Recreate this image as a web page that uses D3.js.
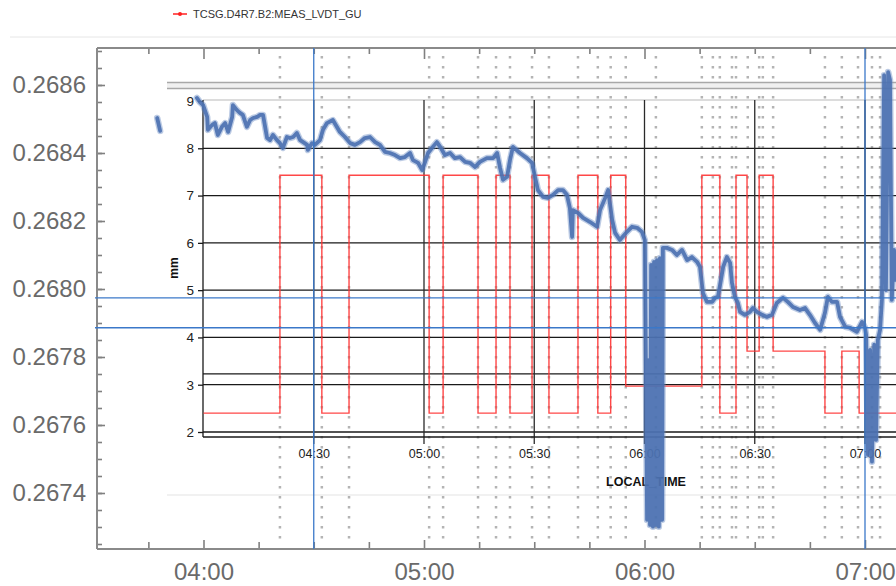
<!DOCTYPE html>
<html>
<head>
<meta charset="utf-8">
<script src="https://cdn.jsdelivr.net/npm/d3@7"></script>
<style>
  body { margin: 0; background: #fff; }
  svg { display: block; font-family: "Liberation Sans", Arial, sans-serif; }
</style>
</head>
<body>
<svg id="chart" width="896" height="586"></svg>
<script>
// all times are minutes after midnight
const legendLabel = 'TCSG.D4R7.B2:MEAS_LVDT_GU';
const outerTicks = [0.2674, 0.2676, 0.2678, 0.2680, 0.2682, 0.2684, 0.2686];
const innerTicks = [2, 3, 4, 5, 6, 7, 8, 9];
const innerGrid = [2, 3, 3.23, 4, 5, 6, 7, 8];
const innerHours = [270, 300, 330, 360, 390, 420];
const cursorTimes = [270, 420];
const cursorValues = [0.267974, 0.267886];

const eventTimes = [260.8, 272.2, 279.6, 301.4, 305.2, 314.7, 319.6, 323.4, 329.4, 334.0,
    341.9, 347.3, 350.8, 354.9, 363.1, 375.6, 378.6, 380.5, 383.8, 384.9, 388.1, 391.2,
    392.2, 395.0, 409.1, 413.7, 418.1, 421.9, 424.1];

const stepTimes = [240, 260.8, 272.2, 279.6, 301.4, 305.2, 314.7, 319.6, 323.4, 329.4, 334.0,
    341.9, 347.3, 350.8, 354.9, 375.6, 380.5, 384.9, 387.9, 391.2, 395.0, 409.1, 413.7, 418.4, 430];
const stepValues = [2.4, 7.43, 2.4, 7.43, 2.4, 7.43, 2.4, 7.43, 2.4, 7.43, 2.4,
    7.43, 2.4, 7.43, 2.97, 7.43, 2.4, 7.43, 3.71, 7.43, 3.71, 2.4, 3.71, 2.4, 2.4];

const blueSegA = [[227.4, 0.268503], [228.2, 0.268465]];
const blueSegB = [
    [238.2, 0.268562], [239.0, 0.268550], [239.9, 0.268541], [241.0, 0.268506], [241.2, 0.268468],
    [242.3, 0.268482], [243.1, 0.268488], [243.9, 0.268453], [245.0, 0.268477], [245.9, 0.268488],
    [246.7, 0.268462], [247.8, 0.268506], [248.0, 0.268541], [249.1, 0.268526], [249.9, 0.268518],
    [250.7, 0.268512], [251.8, 0.268477], [252.7, 0.268497], [253.5, 0.268503], [254.6, 0.268506],
    [255.4, 0.268512], [256.2, 0.268512], [257.3, 0.268444], [258.1, 0.268438], [258.9, 0.268453],
    [260.0, 0.268438], [260.8, 0.268429], [261.6, 0.268415], [262.7, 0.268447], [263.5, 0.268444],
    [264.4, 0.268447], [265.4, 0.268459], [266.3, 0.268438], [267.1, 0.268432], [268.2, 0.268424],
    [268.4, 0.268409], [269.5, 0.268429], [270.3, 0.268424], [271.7, 0.268438], [272.5, 0.268468],
    [273.6, 0.268488], [275.2, 0.268497], [277.1, 0.268462], [278.5, 0.268447], [279.9, 0.268429],
    [281.2, 0.268424], [282.6, 0.268432], [283.9, 0.268444], [285.3, 0.268447], [286.7, 0.268432],
    [288.0, 0.268424], [289.4, 0.268403], [290.7, 0.268400], [292.1, 0.268394], [293.5, 0.268385],
    [294.8, 0.268388], [296.2, 0.268400], [297.0, 0.268379], [298.4, 0.268371], [299.5, 0.268350],
    [300.3, 0.268374], [301.1, 0.268400], [302.4, 0.268418], [303.5, 0.268432], [304.4, 0.268418],
    [305.7, 0.268394], [307.1, 0.268400], [308.4, 0.268385], [309.8, 0.268388], [311.2, 0.268374],
    [312.5, 0.268371], [313.9, 0.268359], [315.2, 0.268374], [317.1, 0.268385], [318.8, 0.268385],
    [319.9, 0.268400], [320.7, 0.268356], [321.5, 0.268321], [322.6, 0.268330], [323.4, 0.268379],
    [324.2, 0.268418], [326.1, 0.268400], [328.0, 0.268385], [329.4, 0.268371], [330.2, 0.268330],
    [331.0, 0.268291], [332.4, 0.268271], [333.7, 0.268268], [335.1, 0.268277], [336.5, 0.268291],
    [337.8, 0.268291], [338.9, 0.268277], [339.7, 0.268238], [340.3, 0.268153], [340.5, 0.268232],
    [341.9, 0.268224], [343.3, 0.268209], [345.2, 0.268197], [347.1, 0.268183], [347.9, 0.268232],
    [349.3, 0.268268], [350.1, 0.268291], [351.2, 0.268203], [352.0, 0.268165], [353.3, 0.268144],
    [355.2, 0.268168], [356.6, 0.268183], [358.0, 0.268180], [359.3, 0.268168], [360.1, 0.268144],
    [360.7, 0.267321], [361.0, 0.267791], [361.5, 0.267306], [361.8, 0.268071], [362.3, 0.267301],
    [362.6, 0.268080], [363.1, 0.267306], [363.4, 0.268085], [363.9, 0.267301], [364.2, 0.268091],
    [364.8, 0.267321], [365.0, 0.268121], [366.1, 0.268121], [367.5, 0.268115], [368.8, 0.268100],
    [370.2, 0.268115], [371.6, 0.268085], [372.9, 0.268094], [374.3, 0.268080], [375.1, 0.268065],
    [375.9, 0.267988], [377.0, 0.267962], [378.4, 0.267962], [379.2, 0.267974], [380.0, 0.267977],
    [381.4, 0.268065], [382.4, 0.268094], [383.3, 0.268077], [383.8, 0.268018], [384.6, 0.267977],
    [385.4, 0.267959], [386.0, 0.267933], [387.3, 0.267924], [388.7, 0.267933], [389.5, 0.267944],
    [390.6, 0.267933], [392.0, 0.267924], [393.3, 0.267918], [394.7, 0.267924], [396.0, 0.267959],
    [397.7, 0.267974], [399.0, 0.267962], [400.4, 0.267947], [402.3, 0.267938], [403.7, 0.267944],
    [405.0, 0.267924], [406.4, 0.267900], [407.8, 0.267880], [409.1, 0.267930], [409.9, 0.267977],
    [411.0, 0.267962], [412.4, 0.267962], [413.2, 0.267918], [414.6, 0.267889], [415.9, 0.267886],
    [417.8, 0.267874], [419.2, 0.267903], [420.0, 0.267886], [420.3, 0.267865], [420.8, 0.267512],
    [421.4, 0.267821], [421.9, 0.267492], [422.5, 0.267836], [423.0, 0.267556], [423.5, 0.267850],
    [424.1, 0.267880], [424.6, 0.267968], [425.2, 0.268629], [425.7, 0.267997], [426.3, 0.268638],
    [426.8, 0.268615], [427.3, 0.267968], [427.9, 0.268115], [428.4, 0.268027]
];

const frame = { left: 97, top: 48, right: 896, bottom: 549 };
const inner = { left: 203, top: 100, bottom: 437, picLeft: 167 };

const at = m => new Date(2000, 0, 1, 0, 0, 0, Math.round(m * 60000));
const hhmm = d3.timeFormat('%H:%M');

const svg = d3.select('#chart');

const x = d3.scaleTime()
            .domain([at(240), at(420)])
            .range([203.5, 865]);

const yOuter = d3.scaleLinear()
            .domain([0.2674, 0.2686])
            .range([493, 85]);

const yInner = d3.scaleLinear()
            .domain([2, 9])
            .range([432, 101]);

const hline = (g, y, x1, x2, color, w) => g.append('line')
    .attr('x1', x1).attr('x2', x2).attr('y1', y).attr('y2', y)
    .attr('stroke', color).attr('stroke-width', w);

const vline = (g, xv, y1, y2, color, w) => g.append('line')
    .attr('x1', xv).attr('x2', xv).attr('y1', y1).attr('y2', y2)
    .attr('stroke', color).attr('stroke-width', w);


const plotLegend = () => {
    hline(svg, 37, 10, 896, '#e6e6e6', 1);
    hline(svg, 14, 173, 187, '#ff2020', 1.5);
    svg.append('circle').attr('cx', 180).attr('cy', 14).attr('r', 2).attr('fill', '#ff2020');
    svg.append('text')
        .attr('x', 193).attr('y', 18)
        .attr('font-size', 11)
        .attr('fill', '#333')
        .text(legendLabel);
};


const plotOuterAxes = () => {
    const quarter = d3.timeMinute.every(15).range(at(225), at(436));
    const isHour = d => d.getMinutes() === 0;

    const bottom = svg.append('g')
        .attr('transform', 'translate(0,' + frame.bottom + ')')
        .call(d3.axisBottom(x).tickValues(quarter).tickSize(-7).tickPadding(14)
            .tickFormat(d => isHour(d) ? hhmm(d) : ''));
    bottom.selectAll('.tick line').attr('y2', d => isHour(d) ? -9 : -7);

    const top = svg.append('g')
        .attr('transform', 'translate(0,' + frame.top + ')')
        .call(d3.axisTop(x).tickValues(quarter).tickSize(-6).tickFormat(''));
    top.selectAll('.tick line').attr('y2', d => isHour(d) ? 11 : 6);

    const minor = d3.range(0, 30).map(i => 0.26725 + i * 0.00005);
    svg.append('g')
        .attr('transform', 'translate(' + frame.left + ',0)')
        .call(d3.axisLeft(yOuter).tickValues(minor).tickSize(-5).tickFormat(''));
    svg.append('g')
        .attr('transform', 'translate(' + frame.left + ',0)')
        .call(d3.axisLeft(yOuter).tickValues(outerTicks).tickSize(-8).tickPadding(11)
            .tickFormat(d3.format('.4f')));

    svg.selectAll('.domain').remove();
    svg.selectAll('.tick line').attr('stroke', '#808080').attr('stroke-width', 1.6);
    svg.selectAll('.tick text')
        .attr('font-size', 24)
        .attr('fill', '#6a6a6a')
        .attr('font-family', '"Liberation Sans", Arial, sans-serif');

    const f = svg.append('g');
    hline(f, frame.top, frame.left, frame.right, '#8a8a8a', 2);
    hline(f, frame.bottom, frame.left, frame.right, '#8a8a8a', 2);
    vline(f, frame.left, frame.top, frame.bottom, '#8a8a8a', 2);
};


const plotEvents = () => {
    svg.append('g')
        .selectAll('line')
        .data(eventTimes)
        .enter()
        .append('line')
        .attr('x1', d => x(at(d)))
        .attr('x2', d => x(at(d)))
        .attr('y1', 56)
        .attr('y2', 546)
        .attr('stroke', '#b4b4b4')
        .attr('stroke-width', 2.5)
        .attr('stroke-dasharray', '2.5,7.5');
};


const plotInnerChart = () => {
    const g = svg.append('g');

    // pasted picture borders
    g.append('rect')
        .attr('x', inner.picLeft).attr('y', 82)
        .attr('width', 896 - inner.picLeft).attr('height', 7)
        .attr('fill', '#f0f0f0');
    hline(g, 82.5, inner.picLeft, 896, '#a8a8a8', 1.5);
    hline(g, 88.5, inner.picLeft, 896, '#a8a8a8', 1.5);
    hline(g, 495, inner.picLeft, 896, '#ececec', 1.5);
    hline(g, yInner(9) - 1, inner.left, 896, '#d0d0d0', 1.5);

    g.append('g')
        .selectAll('line')
        .data(innerGrid)
        .enter()
        .append('line')
        .attr('x1', inner.left)
        .attr('x2', 896)
        .attr('y1', d => yInner(d))
        .attr('y2', d => yInner(d))
        .attr('stroke', '#1a1a1a')
        .attr('stroke-width', 1.3);

    g.append('g')
        .selectAll('line')
        .data(innerHours)
        .enter()
        .append('line')
        .attr('x1', d => x(at(d)))
        .attr('x2', d => x(at(d)))
        .attr('y1', inner.top)
        .attr('y2', inner.bottom + 7)
        .attr('stroke', '#2a2a2a')
        .attr('stroke-width', 1.3);

    hline(g, inner.bottom, inner.left, 896, '#1a1a1a', 1.3);
    vline(g, inner.left, inner.top, inner.bottom, '#1a1a1a', 1.3);

    const yAx = g.append('g')
        .attr('transform', 'translate(' + inner.left + ',0)')
        .call(d3.axisLeft(yInner).tickValues(innerTicks).tickSize(5).tickPadding(4)
            .tickFormat(d3.format('d')));
    const xAx = g.append('g')
        .attr('transform', 'translate(0,' + inner.bottom + ')')
        .call(d3.axisBottom(x).tickValues(innerHours.map(at)).tickSize(0).tickPadding(12)
            .tickFormat(hhmm));
    yAx.select('.domain').remove();
    xAx.select('.domain').remove();
    yAx.selectAll('.tick line').attr('stroke', '#1a1a1a').attr('stroke-width', 1.3);
    g.selectAll('.tick text')
        .attr('font-size', 12.5)
        .attr('fill', '#222')
        .attr('font-family', '"Liberation Sans", Arial, sans-serif');
    yAx.selectAll('.tick text').attr('font-size', 13.5);

    g.append('text')
        .attr('x', 646).attr('y', 486)
        .attr('text-anchor', 'middle')
        .attr('font-size', 12.5)
        .attr('font-weight', 'bold')
        .attr('fill', '#111')
        .text('LOCAL_TIME');

    g.append('text')
        .attr('transform', 'translate(178,268) rotate(-90)')
        .attr('text-anchor', 'middle')
        .attr('font-size', 12)
        .attr('font-weight', 'bold')
        .attr('fill', '#111')
        .text('mm');
};


const plotStep = () => {
    const line = d3.line()
        .x(i => x(at(stepTimes[i])))
        .y(i => yInner(stepValues[i]))
        .curve(d3.curveStepAfter);

    svg.append('path')
        .attr('d', line(d3.range(stepTimes.length)))
        .attr('fill', 'none')
        .attr('stroke', '#ff3333')
        .attr('stroke-opacity', 0.9)
        .attr('stroke-width', 1.4);
};


const plotBlue = () => {
    const line = d3.line()
        .x(d => x(at(d[0])))
        .y(d => yOuter(d[1]));

    [blueSegA, blueSegB].forEach(seg => {
        svg.append('path')
            .attr('d', line(seg))
            .attr('fill', 'none')
            .attr('stroke', '#6a8cc4')
            .attr('stroke-opacity', 0.45)
            .attr('stroke-width', 6.5)
            .attr('stroke-linejoin', 'round')
            .attr('stroke-linecap', 'round');
        svg.append('path')
            .attr('d', line(seg))
            .attr('fill', 'none')
            .attr('stroke', '#4a70b0')
            .attr('stroke-opacity', 0.9)
            .attr('stroke-width', 3.8)
            .attr('stroke-linejoin', 'round')
            .attr('stroke-linecap', 'round');
    });
};


const plotCursors = () => {
    svg.append('g')
        .selectAll('line')
        .data(cursorTimes)
        .enter()
        .append('line')
        .attr('x1', d => x(at(d)))
        .attr('x2', d => x(at(d)))
        .attr('y1', frame.top)
        .attr('y2', frame.bottom)
        .attr('stroke', '#3b78c9')
        .attr('stroke-width', 1.3);

    svg.append('g')
        .selectAll('line')
        .data(cursorValues)
        .enter()
        .append('line')
        .attr('x1', 95)
        .attr('x2', 896)
        .attr('y1', d => yOuter(d))
        .attr('y2', d => yOuter(d))
        .attr('stroke', '#3b78c9')
        .attr('stroke-width', 1.3);
};

plotLegend();
plotOuterAxes();
plotEvents();
plotInnerChart();
plotStep();
plotBlue();
plotCursors();
</script>
</body>
</html>
